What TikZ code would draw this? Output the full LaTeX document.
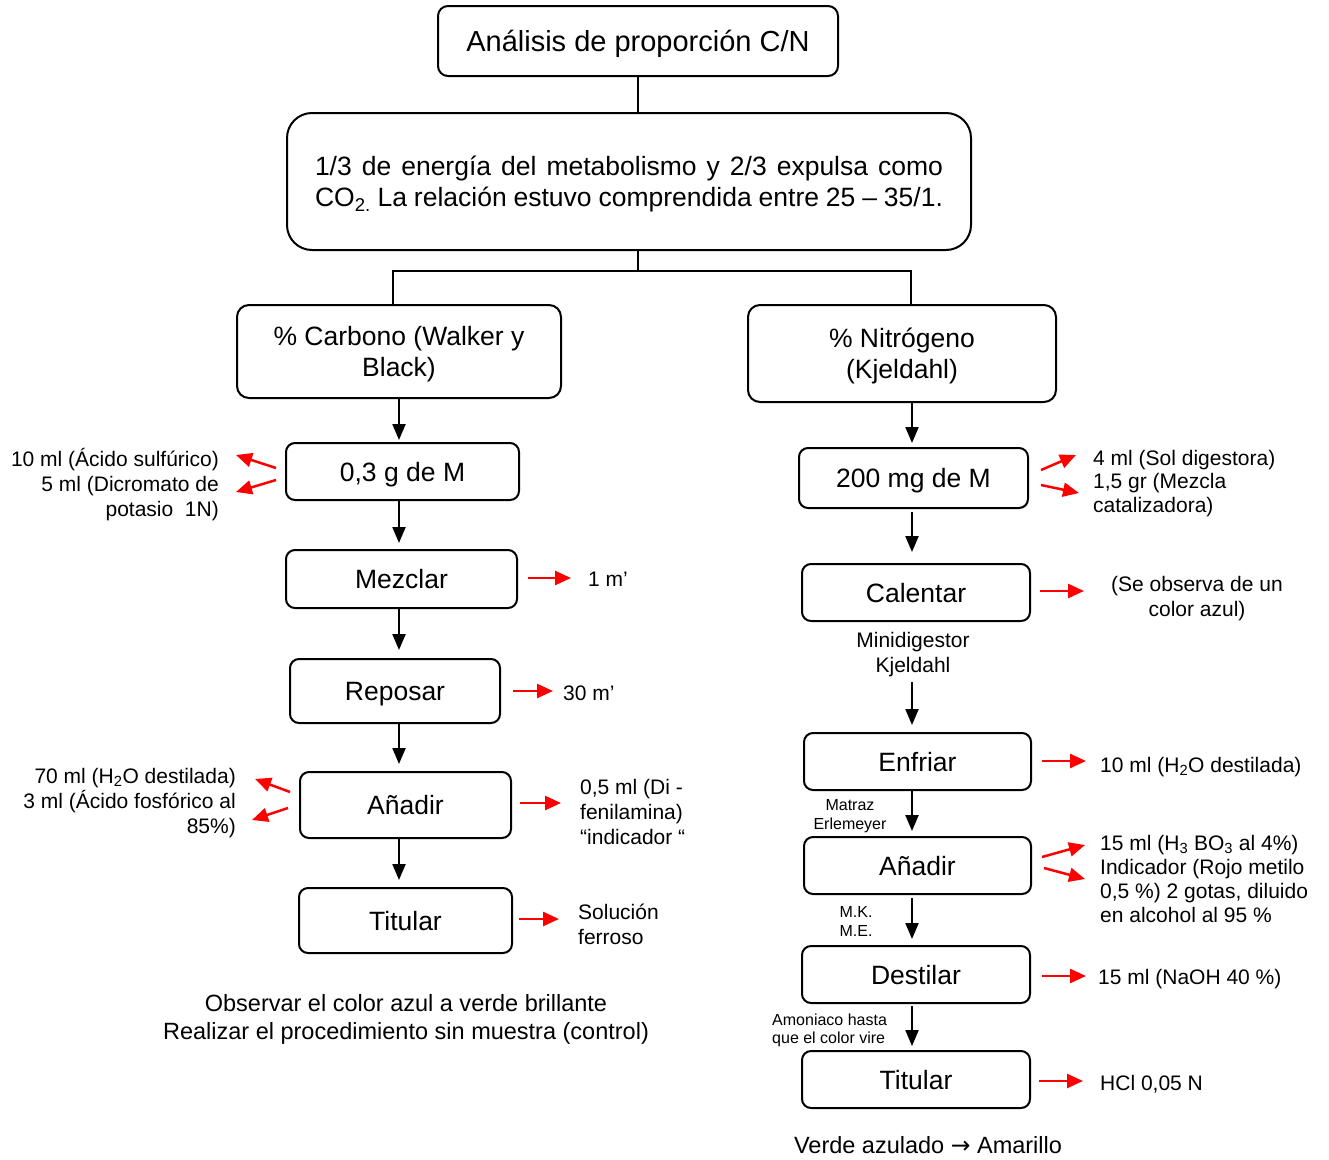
\documentclass[tikz,border=0pt]{standalone}
\usepackage{fontspec}
\setmainfont{Liberation Sans}
\newfontfamily\arrowfont{DejaVu Sans}
\usetikzlibrary{arrows.meta,calc}
\tikzset{
  box/.style={draw, line width=2pt, rounded corners=9pt, align=center, inner sep=0pt,
    text depth=0pt, font=\fontsize{26.5}{31}\selectfont},
  conn/.style={line width=2.2pt, -{Triangle[length=16pt,width=13pt]}, shorten >=4pt},
  plain/.style={line width=2pt},
  redarr/.style={draw=red, line width=2.5pt, -{Triangle[length=16pt,width=14pt,fill=red]}},
  ann/.style={font=\fontsize{21}{25}\selectfont, inner sep=0pt, text depth=0pt},
  small/.style={font=\fontsize{16}{19}\selectfont, inner sep=0pt, text depth=0pt},
  note/.style={font=\fontsize{23.5}{28}\selectfont, inner sep=0pt, align=center, text depth=0pt}
}
\begin{document}
\begin{tikzpicture}[x=1pt,y=-1pt]
\useasboundingbox (0,0) rectangle (1329,1159);
% main boxes
\node[box, rounded corners=10pt, minimum width=400pt, minimum height=70pt,
  font=\fontsize{29}{34}\selectfont] (title) at (638,41) {Análisis de proporción C/N};
\node[box, rounded corners=25pt, minimum width=684pt, minimum height=137pt] (info) at (629,181.5)
  {\makebox[628pt][s]{1/3 de energía del metabolismo y 2/3 expulsa como}\\
   \makebox[628pt][s]{CO\textsubscript{2.} La relación estuvo comprendida entre 25 – 35/1.}};
\node[box, rounded corners=12pt, minimum width=324pt, minimum height=93pt] (carb) at (399,351.5)
  {\% Carbono (Walker y\\Black)};
\node[box, rounded corners=12pt, minimum width=308pt, minimum height=97pt] (nitro) at (902,353.5)
  {\% Nitrógeno\\(Kjeldahl)};
% left column
\node[box, minimum width=233pt, minimum height=57pt] (l1) at (402.5,471.5) {0,3 g de M};
\node[box, minimum width=231pt, minimum height=58pt] (l2) at (401.5,579) {Mezclar};
\node[box, minimum width=210pt, minimum height=64pt] (l3) at (395,691) {Reposar};
\node[box, minimum width=211pt, minimum height=66pt] (l4) at (405.5,805) {Añadir};
\node[box, minimum width=213pt, minimum height=65pt] (l5) at (405.5,920.5) {Titular};
% right column
\node[box, minimum width=229pt, minimum height=60pt] (r1) at (913.5,478) {200 mg de M};
\node[box, minimum width=228pt, minimum height=57pt] (r2) at (916,592.5) {Calentar};
\node[box, minimum width=227pt, minimum height=57pt] (r3) at (917.5,761.5) {Enfriar};
\node[box, minimum width=227pt, minimum height=57pt] (r4) at (917.5,865.5) {Añadir};
\node[box, minimum width=228pt, minimum height=57pt] (r5) at (916,974.5) {Destilar};
\node[box, minimum width=228pt, minimum height=57pt] (r6) at (916,1079.5) {Titular};
% tree connectors
\coordinate (split) at (638,271);
\coordinate (lb) at (393,271);
\coordinate (rb) at (911,271);
\coordinate (lx) at (399,0);
\coordinate (rx) at (912,0);
\draw[plain] (title.south) -- (title.south |- info.north);
\draw[plain] (split |- info.south) -- (split);
\draw[plain, line cap=rect] (lb |- carb.north) -- (lb) -- (rb) -- (rb |- nitro.north);
% left arrows
\draw[conn, shorten >=2pt] (lx |- carb.south) -- (lx |- l1.north);
\draw[conn, shorten >=6pt] (lx |- l1.south) -- (lx |- l2.north);
\draw[conn, shorten >=8pt] (lx |- l2.south) -- (lx |- l3.north);
\draw[conn, shorten >=7pt] (lx |- l3.south) -- (lx |- l4.north);
\draw[conn, shorten >=7pt] (lx |- l4.south) -- (lx |- l5.north);
% right labels
\node[ann, align=center] (kj) at (913,652.5) {Minidigestor\\Kjeldahl};
\node[small, align=center] (matraz) at (850,814.5) {Matraz\\Erlemeyer};
\node[small, align=center] (mk) at (856,921.5) {M.K.\\M.E.};
\node[small, align=left, anchor=west, font=\fontsize{16}{18}\selectfont] (amon) at (772,1029)
  {Amoniaco hasta\\que el color vire};
% right arrows
\draw[conn, shorten >=4pt] (rx |- nitro.south) -- (rx |- r1.north);
\draw[conn, shorten >=11pt] ([yshift=-3pt]rx |- r1.south) -- (rx |- r2.north);
\draw[conn, shorten >=7pt] ([yshift=-9pt]rx |- kj.south) -- (rx |- r3.north);
\draw[conn, shorten >=5pt] (rx |- r3.south) -- (rx |- r4.north);
\draw[conn, shorten >=6pt] ([yshift=-3pt]rx |- r4.south) -- (rx |- r5.north);
\draw[conn, shorten >=4pt] ([yshift=-2pt]rx |- r5.south) -- (rx |- r6.north);
% left annotations
\node[ann, align=right, anchor=east] (aL1) at (219,482)
  {10 ml (Ácido sulfúrico)\\5 ml (Dicromato de\\potasio\ \ 1N)};
\node[ann, anchor=west] (aL2) at (588,579) {1 m’};
\node[ann, anchor=west] (aL3) at (563,693) {30 m’};
\node[ann, align=right, anchor=east] (aL4l) at (236,801)
  {70 ml (H\textsubscript{2}O destilada)\\3 ml (Ácido fosfórico al\\85\%)};
\node[ann, align=left, anchor=west] (aL4r) at (580,812)
  {0,5 ml (Di -\\fenilamina)\\“indicador “};
\node[ann, align=left, anchor=west] (aL5) at (578,924.5) {Solución\\ferroso};
% right annotations
\node[ann, align=left, anchor=west, font=\fontsize{21}{23.5}\selectfont] (aR1) at (1093,481)
  {4 ml (Sol digestora)\\1,5 gr (Mezcla\\catalizadora)};
\node[ann, align=center] (aR2) at (1197,596) {(Se observa de un\\color azul)};
\node[ann, anchor=west] (aR3) at (1100,765) {10 ml (H\textsubscript{2}O destilada)};
\node[ann, align=left, anchor=west, font=\fontsize{21}{24}\selectfont] (aR4) at (1100,879)
  {15 ml (H\textsubscript{3} BO\textsubscript{3} al 4\%)\\Indicador (Rojo metilo\\0,5 \%) 2 gotas, diluido\\en alcohol al 95 \%};
\node[ann, anchor=west] (aR5) at (1098,977) {15 ml (NaOH 40 \%)};
\node[ann, anchor=west] (aR6) at (1100,1083) {HCl 0,05 N};
% red arrows
\draw[redarr] ($(l1.west)+(-9,-3.5)$) -- ++(-40,-13);
\draw[redarr] ($(l1.west)+(-9,8.5)$) -- ++(-40,12);
\draw[redarr] ($(l2.east)+(10,-1)$) -- ++(43,0);
\draw[redarr] ($(l3.east)+(12,0)$) -- ++(40,0);
\draw[redarr] ($(l4.west)+(-9,-13)$) -- ++(-35,-13);
\draw[redarr] ($(l4.west)+(-11,3)$) -- ++(-36,12);
\draw[redarr] ($(l4.east)+(8,-2)$) -- ++(41,0);
\draw[redarr] ($(l5.east)+(6,-1.5)$) -- ++(40,0);
\draw[redarr] ($(r1.east)+(12,-8)$) -- ++(35,-15);
\draw[redarr] ($(r1.east)+(12,7)$) -- ++(38,8);
\draw[redarr] ($(r2.east)+(9,-1.5)$) -- ++(44,0);
\draw[redarr] ($(r3.east)+(10,-0.5)$) -- ++(44,0);
\draw[redarr] ($(r4.east)+(10,-8.5)$) -- ++(43,-12);
\draw[redarr] ($(r4.east)+(12,2.5)$) -- ++(41,11);
\draw[redarr] ($(r5.east)+(11,1.5)$) -- ++(44,0);
\draw[redarr] ($(r6.east)+(8,1.5)$) -- ++(44,0);
% bottom notes
\node[note] (obs) at (406,1017)
  {Observar el color azul a verde brillante\\Realizar el procedimiento sin muestra (control)};
\node[note] (verde) at (928,1145) {Verde azulado {\arrowfont →} Amarillo};
\end{tikzpicture}
\end{document}
